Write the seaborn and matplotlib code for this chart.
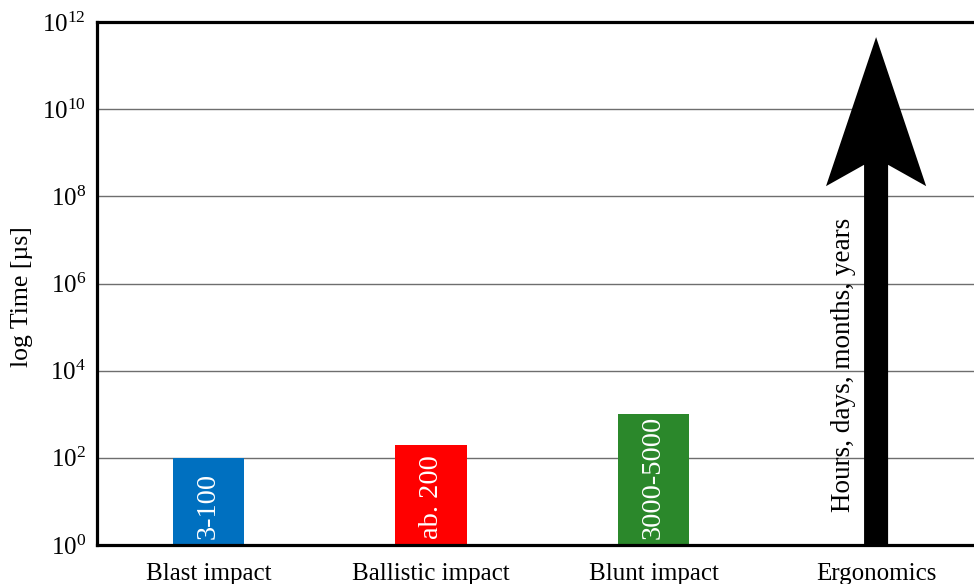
import numpy as np
import pandas as pd
import matplotlib
matplotlib.use("Agg")
import matplotlib.pyplot as plt
from matplotlib.patches import Polygon
import seaborn as sns

# Characteristic time scales of loading scenarios (microseconds)
categories = ["Blast impact", "Ballistic impact", "Blunt impact", "Ergonomics"]
durations_us = [100, 200, 1000, np.nan]
bar_labels = ["3-100", "ab. 200", "3000-5000"]
bar_colors = ["#0070C0", "#FF0000", "#2B882B", "#000000"]

# Ergonomics spans from 1 µs up to "years" – drawn as an open-ended arrow
ergonomics_span = [1, 4.5e11]
ergonomics_text = "Hours, days, months, years"

sns.set_theme(style="white")
plt.rcParams["font.family"] = ["Liberation Serif", "DejaVu Serif"]
plt.rcParams["mathtext.fontset"] = "custom"
plt.rcParams["mathtext.rm"] = "Liberation Serif"
plt.rcParams["mathtext.it"] = "Liberation Serif:italic"
plt.rcParams["text.color"] = "black"
plt.rcParams["axes.labelcolor"] = "black"
plt.rcParams["xtick.color"] = "black"
plt.rcParams["ytick.color"] = "black"

df = pd.DataFrame({"category": categories, "time": durations_us})

fig = plt.figure(figsize=(9.74, 5.84), dpi=100)
ax = fig.add_axes([97 / 974, 39 / 584, (974 - 97) / 974, 523 / 584])

sns.barplot(data=df, x="category", y="time", hue="category", order=categories,
            palette=bar_colors, saturation=1, legend=False, width=0.32, ax=ax,
            edgecolor="none", linewidth=0)

ax.set_yscale("log")
ax.set_ylim(1, 1e12)
ax.set_xlim(-0.501, 3.44)
ax.set_yticks([10.0 ** k for k in range(0, 13, 2)])
ax.minorticks_off()

# Horizontal reference lines at every second decade
for k in range(2, 12, 2):
    ax.axhline(10.0 ** k, color="#6e6e6e", lw=1.0, zorder=0.5)

# Value labels written vertically inside the bars
for i, lab in enumerate(bar_labels):
    ax.annotate(lab, xy=(i, 1), xytext=(0, 4), textcoords="offset points",
                rotation=90, ha="center", va="bottom", color="white",
                fontsize=20.5, zorder=5)

# Arrow for the open-ended ergonomics time scale
xe = categories.index("Ergonomics")
lo, hi = ergonomics_span
shaft_hw, head_hw = 0.054, 0.225
head_base = 10 ** (np.log10(hi) - 3.42)
notch = 10 ** (np.log10(hi) - 2.93)
verts = [(xe - shaft_hw, lo), (xe - shaft_hw, notch), (xe - head_hw, head_base),
         (xe, hi), (xe + head_hw, head_base), (xe + shaft_hw, notch),
         (xe + shaft_hw, lo)]
ax.add_patch(Polygon(verts, closed=True, facecolor="black", edgecolor="none", zorder=4))
ax.text(xe - 0.145, 10 ** 0.76, ergonomics_text, rotation=90, ha="center",
        va="bottom", fontsize=19.5, color="black", zorder=5)

ax.set_xlabel("")
ax.set_ylabel("log Time [µs]", fontsize=18.5)
ax.yaxis.set_label_coords(-0.073, 0.474)
ax.tick_params(axis="x", length=0, pad=13, labelsize=18)
ax.tick_params(axis="y", direction="out", length=5, width=2, pad=3, labelsize=18)

for side in ["left", "bottom", "top"]:
    ax.spines[side].set_visible(True)
    ax.spines[side].set_color("black")
    ax.spines[side].set_linewidth(2.3)
ax.spines["right"].set_visible(False)

fig.savefig("out.png", dpi=100)
